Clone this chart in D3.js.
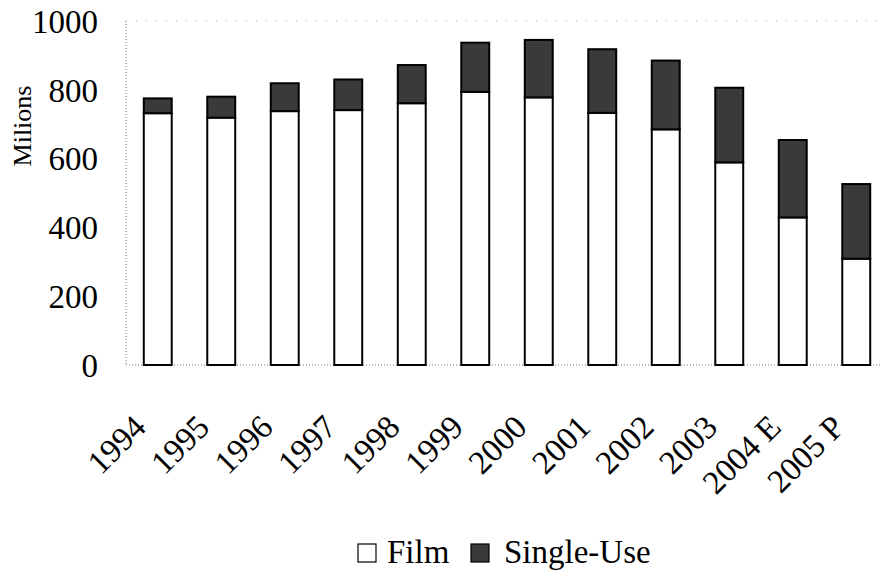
<!DOCTYPE html>
<html>
<head>
<meta charset="utf-8">
<script src="https://cdn.jsdelivr.net/npm/d3@7"></script>
<style>
  html, body { margin: 0; padding: 0; background: #fff; }
  svg { display: block; }
  svg text { font-family: "Liberation Serif", "Times New Roman", serif; }
</style>
</head>
<body>
<svg id="chart" width="880" height="577"></svg>
<script>
// Camera units shipped, millions
const years = ["1994", "1995", "1996", "1997", "1998", "1999", "2000", "2001", "2002", "2003", "2004 E", "2005 P"];
const film = [732, 719, 738, 741, 761, 794, 778, 733, 685, 589, 429, 309];
const singleUse = [43, 61, 81, 89, 111, 143, 167, 185, 200, 217, 225, 217];
const yTicks = [0, 200, 400, 600, 800, 1000];
const seriesNames = ["Film", "Single-Use"];

const serif = "'Liberation Serif', 'Times New Roman', serif";
const svg = d3.select("#chart");
const plot = { left: 126, right: 888, top: 21, bottom: 365 };

const x = d3.scaleBand()
  .domain(years)
  .range([plot.left, plot.right])
  .paddingInner(0.56)
  .paddingOuter(0.28);

const y = d3.scaleLinear()
  .domain([0, 1000])
  .range([plot.bottom, plot.top]);

// Plot frame: faint dotted border
const frame = svg.append("g")
  .attr("fill", "none")
  .attr("stroke", "#777")
  .attr("stroke-width", 1)
  .attr("stroke-dasharray", "1,2");
frame.append("line")
  .attr("x1", plot.left).attr("x2", plot.left)
  .attr("y1", y(1000)).attr("y2", y(0));
frame.append("line")
  .attr("x1", plot.left).attr("x2", plot.right)
  .attr("y1", y(0)).attr("y2", y(0));
frame.append("line")
  .attr("x1", plot.left).attr("x2", plot.right)
  .attr("y1", y(1000)).attr("y2", y(1000))
  .attr("stroke", "#aaa")
  .attr("stroke-dasharray", "1,9");

// Y axis labels
const yAxis = d3.axisLeft(y).tickValues(yTicks).tickFormat(d3.format("d")).tickSize(0).tickPadding(28);
const gy = svg.append("g")
  .attr("transform", `translate(${plot.left},0)`)
  .call(yAxis)
  .attr("font-family", null);
gy.select(".domain").remove();
gy.selectAll("text")
  .style("font-family", serif)
  .attr("font-size", 33)
  .attr("fill", "#000")
  .attr("dy", "0.34em");

// Y axis title
svg.append("text")
  .attr("transform", "translate(31,126) rotate(-90)")
  .attr("text-anchor", "middle")
  .style("font-family", serif)
  .attr("font-size", 26)
  .attr("fill", "#000")
  .text("Milions");

// Stacked bars
const rows = years.map((yr, i) => ({ year: yr, film: film[i], single: singleUse[i] }));
const bars = svg.append("g");

bars.selectAll("rect.film")
  .data(rows)
  .join("rect")
  .attr("class", "film")
  .attr("x", d => x(d.year))
  .attr("width", x.bandwidth())
  .attr("y", d => y(d.film))
  .attr("height", d => y(0) - y(d.film))
  .attr("fill", "#fff")
  .attr("stroke", "#000")
  .attr("stroke-width", 2);

bars.selectAll("rect.single")
  .data(rows)
  .join("rect")
  .attr("class", "single")
  .attr("x", d => x(d.year))
  .attr("width", x.bandwidth())
  .attr("y", d => y(d.film + d.single))
  .attr("height", d => y(d.film) - y(d.film + d.single))
  .attr("fill", "#3a3a3a")
  .attr("stroke", "#000")
  .attr("stroke-width", 2);

// X axis labels, rotated
const gx = svg.append("g")
  .attr("transform", `translate(0,${plot.bottom})`)
  .call(d3.axisBottom(x).tickSize(0).tickPadding(0))
  .attr("font-family", null);
gx.select(".domain").remove();
gx.selectAll("text")
  .style("font-family", serif)
  .attr("font-size", 33)
  .attr("fill", "#000")
  .attr("text-anchor", "end")
  .attr("dy", null)
  .attr("y", 0)
  .attr("transform", "translate(-10,64) rotate(-45)");

// Legend
const legend = svg.append("g");
const items = [
  { name: seriesNames[0], fill: "#fff", bx: 358, tx: 387 },
  { name: seriesNames[1], fill: "#3a3a3a", bx: 471, tx: 504 }
];
items.forEach(it => {
  legend.append("rect")
    .attr("x", it.bx).attr("y", 544)
    .attr("width", 18).attr("height", 18)
    .attr("fill", it.fill)
    .attr("stroke", "#000")
    .attr("stroke-width", 1.2);
  legend.append("text")
    .attr("x", it.tx).attr("y", 563)
    .style("font-family", serif)
    .attr("font-size", 33)
    .attr("fill", "#000")
    .text(it.name);
});
</script>
</body>
</html>
